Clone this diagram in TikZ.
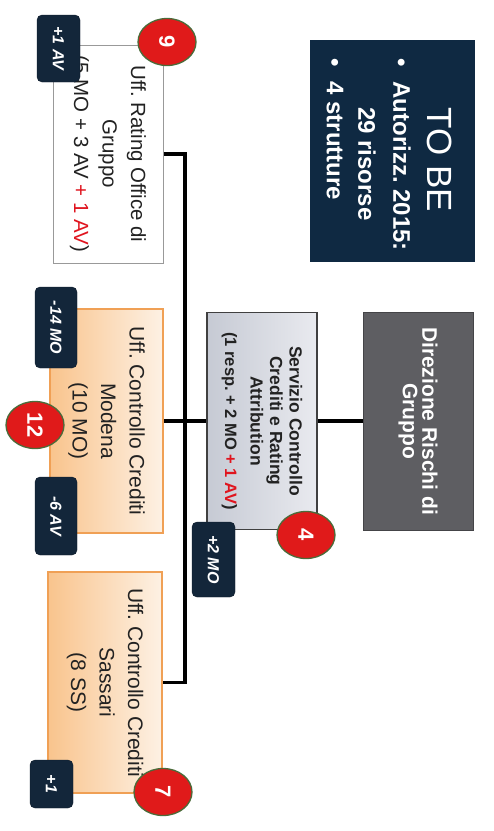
\documentclass[tikz,border=0pt]{standalone}
\usepackage{fontspec}
\setmainfont{Liberation Sans}
\usetikzlibrary{shapes.geometric}
\definecolor{tobenavy}{HTML}{0F2942}
\definecolor{bnavy}{HTML}{13263A}
\definecolor{dirgray}{HTML}{5E5E62}
\definecolor{dirborder}{HTML}{444447}
\definecolor{servA}{HTML}{C6CAD4}
\definecolor{servB}{HTML}{E9EAEF}
\definecolor{orA}{HTML}{F9C48D}
\definecolor{orB}{HTML}{FDF1E4}
\definecolor{orborder}{HTML}{F0A055}
\definecolor{badgered}{HTML}{E01A1A}
\definecolor{badgeedge}{HTML}{4B6B3A}
\definecolor{txt}{HTML}{222222}
\definecolor{accent}{HTML}{E0141E}
\frenchspacing
\begin{document}
\begin{tikzpicture}[x=1pt,y=-1pt,
  orgbox/.style={rotate=-90, inner sep=0pt, align=center, text=txt},
  whitebox/.style={orgbox, fill=white, draw=gray!80, line width=1pt,
    font=\fontsize{20.5}{28.5}\selectfont},
  orangebox/.style={orgbox, draw=orborder, line width=1.2pt, left color=orA, right color=orB,
    font=\fontsize{21}{28.5}\selectfont},
  servbox/.style={orgbox, draw=black!75, line width=1.3pt, left color=servA, right color=servB,
    font=\fontsize{17.5}{19.5}\selectfont\bfseries},
  dirbox/.style={orgbox, fill=dirgray, draw=dirborder, line width=1pt, text=white,
    font=\fontsize{21}{19.5}\selectfont\bfseries},
  tag/.style={rotate=-90, fill=bnavy, draw=bnavy!70!black, rounded corners=5pt, text=white,
    inner sep=0pt, font=\fontsize{16}{18}\selectfont\bfseries\itshape},
  num/.style={rotate=-90, ellipse, fill=badgered, draw=badgeedge, line width=1.3pt,
    minimum width=47pt, minimum height=58pt, inner sep=0pt, text=white,
    font=\fontsize{22}{22}\selectfont\bfseries},
  conn/.style={line width=3.5pt, black},
  tobetext/.style={rotate=-90, inner sep=0pt, text=white, anchor=west,
    font=\fontsize{24}{26}\selectfont\bfseries}
]
\useasboundingbox (0,0) rectangle (494,831);
\fill[white] (0,0) rectangle (494,831);

% TO BE panel
\node[orgbox, fill=tobenavy, minimum width=222pt, minimum height=165pt] (tobe) at (392.5,151) {};
\node[rotate=-90, inner sep=0pt, text=white, font=\fontsize{35}{35}\selectfont] (tobetitle) at (440,160) {TO BE};
\node[tobetext] (tobeA) at (402,58) {\textbullet\hspace{15pt}Autorizz. 2015:};
\node[tobetext] (tobeB) at (367,107) {29 risorse};
\node[tobetext] (tobeC) at (335,58) {\textbullet\hspace{15pt}4 strutture};

% boxes
\node[dirbox, minimum width=218pt, minimum height=110pt] (dir) at (418,421) {Direzione Rischi di\\Gruppo};
\node[servbox, minimum width=217pt, minimum height=110pt] (serv) at (262,421)
  {Servizio Controllo\\Crediti e Rating\\Attribution\\[6pt]{\fontsize{16.5}{17}\selectfont (1 resp. + 2 MO {\color{accent}+ 1 AV})}};
\node[whitebox, minimum width=218pt, minimum height=110pt] (rating) at (108,154)
  {Uff. Rating Office di\\Gruppo\\(5 MO + 3 AV {\color{accent}+ 1 AV})};
\node[orangebox, minimum width=224pt, minimum height=113pt] (modena) at (106.5,421)
  {Uff. Controllo Crediti\\Modena\\(10 MO)};
\node[orangebox, minimum width=221pt, minimum height=114pt] (sassari) at (105,682.5)
  {Uff. Controllo Crediti\\Sassari\\(8 SS)};

% connectors
\coordinate (ttop) at (185,154);
\coordinate (tbot) at (185,682.5);
\draw[conn] (dir.south) -- (serv.north);
\draw[conn] (serv.south) -- (modena.north);
\draw[conn] (rating.north) -- (ttop) -- (tbot) -- (sassari.north);

% tags
\node[tag, minimum width=67pt, minimum height=43pt] (tagA) at (58.5,48.5) {+1 AV};
\node[tag, minimum width=81pt, minimum height=42pt] (tagB) at (56,327.5) {-14 MO};
\node[tag, minimum width=78pt, minimum height=42pt] (tagC) at (56,516) {-6 AV};
\node[tag, minimum width=75pt, minimum height=43pt] (tagD) at (213.5,559.5) {+2 MO};
\node[tag, minimum width=48pt, minimum height=43pt] (tagE) at (51.5,784) {+1};

% numbered badges
\node[num] (n9) at (167,42) {9};
\node[num] (n12) at (35,425) {12};
\node[num] (n4) at (306,535) {4};
\node[num] (n7) at (163,792) {7};
\end{tikzpicture}
\end{document}
